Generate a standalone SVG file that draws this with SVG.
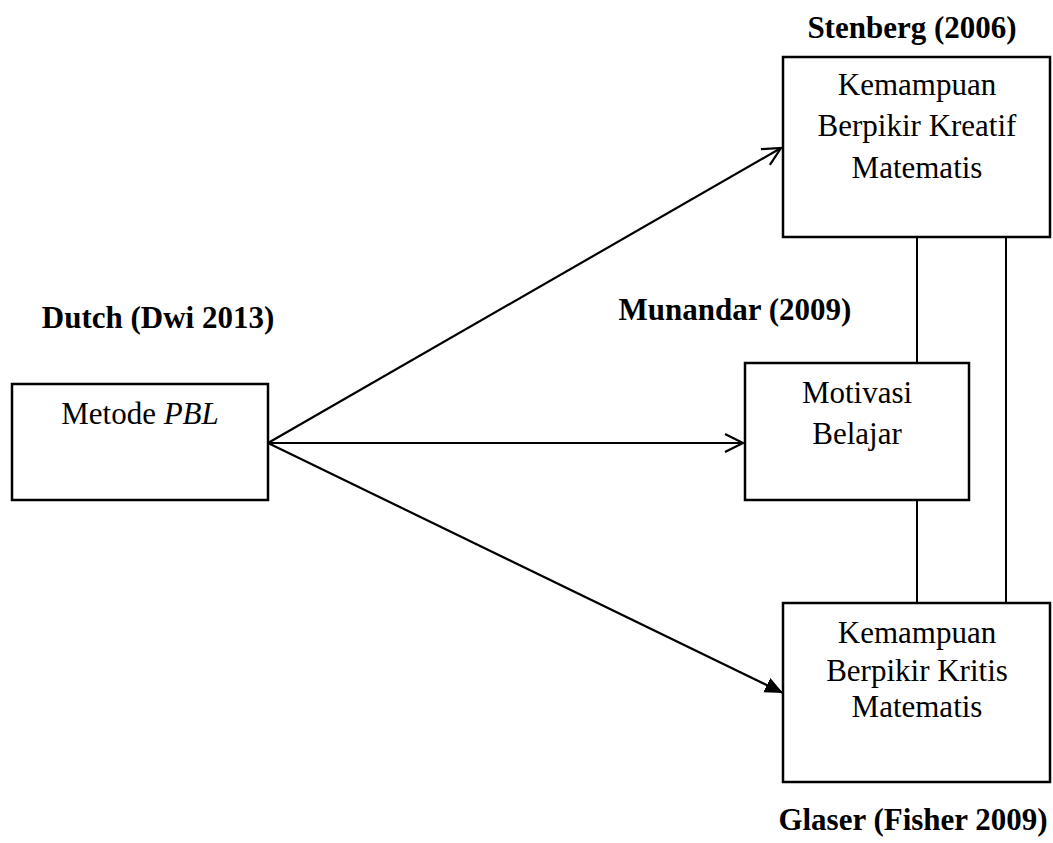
<svg xmlns="http://www.w3.org/2000/svg" width="1053" height="843" viewBox="0 0 1053 843">
<style>
.box{fill:#fff;stroke:#000;stroke-width:2.5}
.t{font-family:"Liberation Serif","Times New Roman",serif;font-size:31px;fill:#000;text-anchor:middle}
.b{font-weight:bold}
.c{stroke:#000;stroke-width:2.2;fill:none}
.v{stroke:#000;stroke-width:2;fill:none}
</style>
<defs>
<marker id="open" markerUnits="userSpaceOnUse" markerWidth="24" markerHeight="24" refX="20" refY="11" orient="auto">
<path d="M2,2 L20,11 L2,20" fill="none" stroke="#000" stroke-width="2.2"/>
</marker>
<marker id="filled" markerUnits="userSpaceOnUse" markerWidth="22" markerHeight="20" refX="18" refY="8" orient="auto">
<path d="M0,0 L18,8 L0,16 Z" fill="#000"/>
</marker>
</defs>
<rect width="1053" height="843" fill="#fff"/>
<g id="connectors">
<line class="c" x1="268" y1="443" x2="781" y2="148" marker-end="url(#open)"/>
<line class="c" x1="268" y1="443" x2="743" y2="443" marker-end="url(#open)"/>
<line class="c" x1="268" y1="443" x2="783" y2="693" marker-end="url(#filled)"/>
<line class="v" x1="917" y1="237" x2="917" y2="363"/>
<line class="v" x1="917" y1="500" x2="917" y2="603"/>
<line class="v" x1="1006" y1="237" x2="1006" y2="603"/>
</g>
<g id="label-stenberg"><text class="t b" x="912" y="38">Stenberg (2006)</text></g>
<g id="label-dutch"><text class="t b" x="158" y="328">Dutch (Dwi 2013)</text></g>
<g id="label-munandar"><text class="t b" x="735" y="320">Munandar (2009)</text></g>
<g id="label-glaser"><text class="t b" x="913" y="830">Glaser (Fisher 2009)</text></g>
<g id="node-kreatif">
<rect class="box" x="783" y="57" width="267" height="180"/>
<text class="t" x="917" y="95">Kemampuan</text>
<text class="t" x="917" y="136">Berpikir Kreatif</text>
<text class="t" x="917" y="178">Matematis</text>
</g>
<g id="node-pbl">
<rect class="box" x="12" y="384" width="256" height="116"/>
<text class="t" x="140" y="424">Metode <tspan font-style="italic">PBL</tspan></text>
</g>
<g id="node-motivasi">
<rect class="box" x="745" y="363" width="224" height="137"/>
<text class="t" x="857" y="403">Motivasi</text>
<text class="t" x="857" y="444">Belajar</text>
</g>
<g id="node-kritis">
<rect class="box" x="783" y="603" width="267" height="179"/>
<text class="t" x="917" y="643">Kemampuan</text>
<text class="t" x="917" y="681">Berpikir Kritis</text>
<text class="t" x="917" y="717">Matematis</text>
</g>
</svg>
